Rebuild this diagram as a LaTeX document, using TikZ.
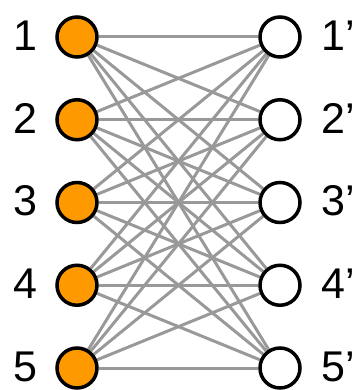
\documentclass[tikz,border=0pt]{standalone}
\usepackage{fontspec}
\setmainfont{Liberation Sans}
\pgfdeclarelayer{bg}
\pgfsetlayers{bg,main}
\definecolor{nodeorange}{RGB}{255,153,0}
\definecolor{edgegray}{RGB}{153,153,153}
\tikzset{
  lnode/.style={circle,draw=black,line width=3.5pt,fill=nodeorange,minimum size=40pt,inner sep=0pt},
  rnode/.style={circle,draw=black,line width=3.5pt,fill=white,minimum size=40pt,inner sep=0pt},
  lbl/.style={inner sep=0pt,font=\fontsize{43}{43}\selectfont},
  edge/.style={draw=edgegray,line width=3pt}
}
\begin{document}
\begin{tikzpicture}[x=1pt,y=-1pt]
\useasboundingbox (0,0) rectangle (359,390);
\foreach \i/\y in {1/37,2/119.75,3/202.5,4/285.25,5/368}{
  \node[lnode] (L\i) at (77,\y) {};
  \node[rnode] (R\i) at (280,\y) {};
  \node[lbl] (tl\i) at (25,\y-1.5) {\i};
  \node[lbl] (tr\i) at (338,\y-1.5) {\i’};
}
\begin{pgfonlayer}{bg}
\foreach \i in {1,...,5}{
  \foreach \j in {1,...,5}{
    \draw[edge] (L\i) -- (R\j);
  }
}
\end{pgfonlayer}
\end{tikzpicture}
\end{document}
